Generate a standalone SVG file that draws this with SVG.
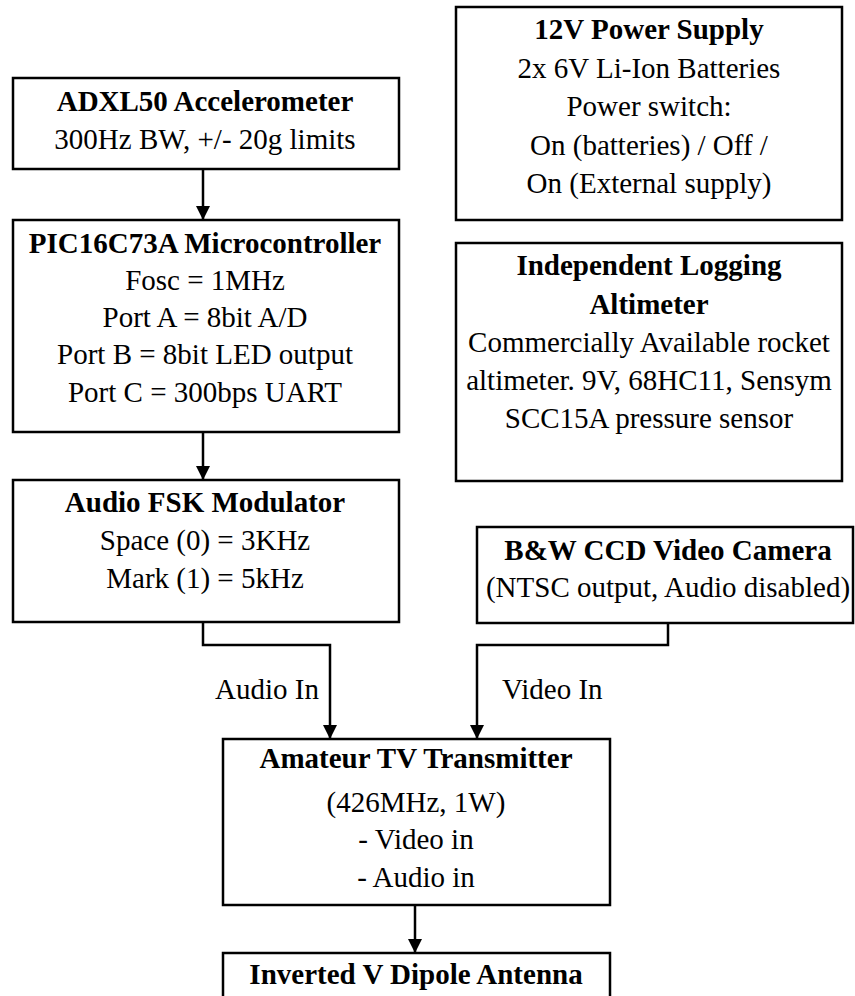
<svg xmlns="http://www.w3.org/2000/svg" width="855" height="996" viewBox="0 0 855 996">
<defs>
<style>
.box{fill:#fff;stroke:#000;stroke-width:2.5}
text{font-family:"Liberation Serif","Times New Roman",serif;font-size:29px;fill:#000;text-anchor:middle}
.b{font-weight:bold}
.lbl{text-anchor:start}
.wire{fill:none;stroke:#000;stroke-width:2.5}
</style>
<marker id="ah" markerWidth="15" markerHeight="13" refX="7.5" refY="13" orient="auto" markerUnits="userSpaceOnUse" viewBox="0 0 15 13">
<path d="M0,0 L15,0 L7.5,13 Z" fill="#000" transform="rotate(-90 7.5 6.5)"/>
</marker>
</defs>
<rect width="855" height="996" fill="#fff"/>
<g id="connectors">
<path class="wire" d="M203,169 V219"/>
<polygon points="196,206 210,206 203,220"/>
<path class="wire" d="M203,432 V479"/>
<polygon points="196,466 210,466 203,480"/>
<path class="wire" d="M203,622 V645 H330 V738"/>
<polygon points="323,725 337,725 330,739"/>
<path class="wire" d="M668,623 V645 H477 V738"/>
<polygon points="470,725 484,725 477,739"/>
<path class="wire" d="M415,905 V952"/>
<polygon points="408,939 422,939 415,953"/>
<text class="lbl" x="215" y="699">Audio In</text>
<text class="lbl" x="502" y="699">Video In</text>
</g>
<g id="adxl50">
<rect class="box" x="13" y="78" width="386" height="91"/>
<text class="b" x="205" y="111">ADXL50 Accelerometer</text>
<text x="205" y="149">300Hz BW, +/- 20g limits</text>
</g>
<g id="pic">
<rect class="box" x="13" y="220" width="386" height="212"/>
<text class="b" x="205" y="253">PIC16C73A Microcontroller</text>
<text x="205" y="290">Fosc = 1MHz</text>
<text x="205" y="327">Port A = 8bit A/D</text>
<text x="205" y="364">Port B = 8bit LED output</text>
<text x="205" y="402">Port C = 300bps UART</text>
</g>
<g id="fsk">
<rect class="box" x="13" y="480" width="386" height="142"/>
<text class="b" x="205" y="512">Audio FSK Modulator</text>
<text x="205" y="550">Space (0) = 3KHz</text>
<text x="205" y="588">Mark (1) = 5kHz</text>
</g>
<g id="power">
<rect class="box" x="456" y="7" width="386" height="213"/>
<text class="b" x="649" y="39">12V Power Supply</text>
<text x="649" y="78">2x 6V Li-Ion Batteries</text>
<text x="649" y="116">Power switch:</text>
<text x="649" y="155">On (batteries) / Off /</text>
<text x="649" y="193">On (External supply)</text>
</g>
<g id="altimeter">
<rect class="box" x="456" y="243" width="386" height="238"/>
<text class="b" x="649" y="275">Independent Logging</text>
<text class="b" x="649" y="314">Altimeter</text>
<text x="649" y="352">Commercially Available rocket</text>
<text x="649" y="390">altimeter. 9V, 68HC11, Sensym</text>
<text x="649" y="428">SCC15A pressure sensor</text>
</g>
<g id="camera">
<rect class="box" x="477" y="527" width="376" height="96"/>
<text class="b" x="668" y="560">B&amp;W CCD Video Camera</text>
<text x="668" y="597">(NTSC output, Audio disabled)</text>
</g>
<g id="transmitter">
<rect class="box" x="223" y="739" width="387" height="166"/>
<text class="b" x="416" y="768">Amateur TV Transmitter</text>
<text x="416" y="812">(426MHz, 1W)</text>
<text x="416" y="849">- Video in</text>
<text x="416" y="887">- Audio in</text>
</g>
<g id="antenna">
<rect class="box" x="223" y="953" width="387" height="60"/>
<text class="b" x="416" y="984">Inverted V Dipole Antenna</text>
</g>
</svg>
